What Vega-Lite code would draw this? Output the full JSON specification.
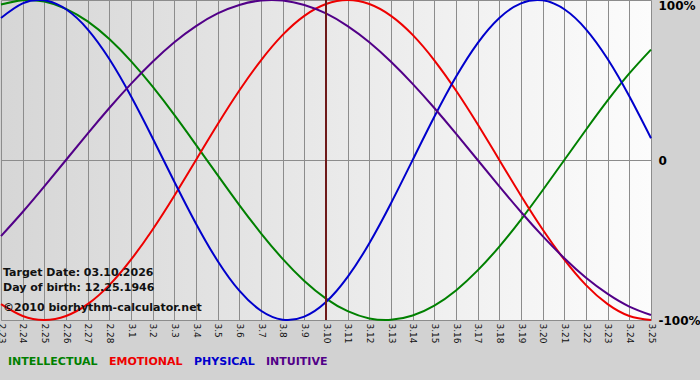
{
  "$schema": "https://vega.github.io/schema/vega-lite/v6.json",
  "width": 650,
  "height": 320,
  "autosize": {"type": "none"},
  "padding": {"left": 1, "top": 0, "right": 49, "bottom": 60},
  "background": "#d2d2d2",
  "config": {
    "font": "DejaVu Sans",
    "view": {
      "stroke": null,
      "fill": {"gradient": "linear", "x1": 0, "y1": 0, "x2": 1, "y2": 0,
        "stops": [{"offset": 0, "color": "#d6d6d6"}, {"offset": 1, "color": "#fcfcfc"}]}
    }
  },
  "layer": [
    {
      "data": {"values": [
        {"date": "2.23", "INTELLECTUAL": 0.972, "EMOTIONAL": -0.901, "PHYSICAL": 0.888, "INTUITIVE": -0.476},
        {"date": "2.24", "INTELLECTUAL": 0.999, "EMOTIONAL": -0.975, "PHYSICAL": 0.979, "INTUITIVE": -0.325},
        {"date": "2.25", "INTELLECTUAL": 0.990, "EMOTIONAL": -1.0, "PHYSICAL": 0.998, "INTUITIVE": -0.165},
        {"date": "2.26", "INTELLECTUAL": 0.945, "EMOTIONAL": -0.975, "PHYSICAL": 0.942, "INTUITIVE": 0.0},
        {"date": "2.27", "INTELLECTUAL": 0.866, "EMOTIONAL": -0.901, "PHYSICAL": 0.817, "INTUITIVE": 0.165},
        {"date": "2.28", "INTELLECTUAL": 0.756, "EMOTIONAL": -0.782, "PHYSICAL": 0.631, "INTUITIVE": 0.325},
        {"date": "3.1", "INTELLECTUAL": 0.618, "EMOTIONAL": -0.623, "PHYSICAL": 0.398, "INTUITIVE": 0.476},
        {"date": "3.2", "INTELLECTUAL": 0.458, "EMOTIONAL": -0.434, "PHYSICAL": 0.136, "INTUITIVE": 0.614},
        {"date": "3.3", "INTELLECTUAL": 0.282, "EMOTIONAL": -0.223, "PHYSICAL": -0.136, "INTUITIVE": 0.736},
        {"date": "3.4", "INTELLECTUAL": 0.095, "EMOTIONAL": 0.0, "PHYSICAL": -0.398, "INTUITIVE": 0.837},
        {"date": "3.5", "INTELLECTUAL": -0.095, "EMOTIONAL": 0.223, "PHYSICAL": -0.631, "INTUITIVE": 0.916},
        {"date": "3.6", "INTELLECTUAL": -0.282, "EMOTIONAL": 0.434, "PHYSICAL": -0.817, "INTUITIVE": 0.969},
        {"date": "3.7", "INTELLECTUAL": -0.458, "EMOTIONAL": 0.623, "PHYSICAL": -0.942, "INTUITIVE": 0.997},
        {"date": "3.8", "INTELLECTUAL": -0.618, "EMOTIONAL": 0.782, "PHYSICAL": -0.998, "INTUITIVE": 0.997},
        {"date": "3.9", "INTELLECTUAL": -0.756, "EMOTIONAL": 0.901, "PHYSICAL": -0.979, "INTUITIVE": 0.969},
        {"date": "3.10", "INTELLECTUAL": -0.866, "EMOTIONAL": 0.975, "PHYSICAL": -0.888, "INTUITIVE": 0.916},
        {"date": "3.11", "INTELLECTUAL": -0.945, "EMOTIONAL": 1.0, "PHYSICAL": -0.731, "INTUITIVE": 0.837},
        {"date": "3.12", "INTELLECTUAL": -0.990, "EMOTIONAL": 0.975, "PHYSICAL": -0.520, "INTUITIVE": 0.736},
        {"date": "3.13", "INTELLECTUAL": -0.999, "EMOTIONAL": 0.901, "PHYSICAL": -0.270, "INTUITIVE": 0.614},
        {"date": "3.14", "INTELLECTUAL": -0.972, "EMOTIONAL": 0.782, "PHYSICAL": 0.0, "INTUITIVE": 0.476},
        {"date": "3.15", "INTELLECTUAL": -0.910, "EMOTIONAL": 0.623, "PHYSICAL": 0.270, "INTUITIVE": 0.325},
        {"date": "3.16", "INTELLECTUAL": -0.815, "EMOTIONAL": 0.434, "PHYSICAL": 0.520, "INTUITIVE": 0.165},
        {"date": "3.17", "INTELLECTUAL": -0.690, "EMOTIONAL": 0.223, "PHYSICAL": 0.731, "INTUITIVE": 0.0},
        {"date": "3.18", "INTELLECTUAL": -0.541, "EMOTIONAL": 0.0, "PHYSICAL": 0.888, "INTUITIVE": -0.165},
        {"date": "3.19", "INTELLECTUAL": -0.372, "EMOTIONAL": -0.223, "PHYSICAL": 0.979, "INTUITIVE": -0.325},
        {"date": "3.20", "INTELLECTUAL": -0.189, "EMOTIONAL": -0.434, "PHYSICAL": 0.998, "INTUITIVE": -0.476},
        {"date": "3.21", "INTELLECTUAL": 0.0, "EMOTIONAL": -0.623, "PHYSICAL": 0.942, "INTUITIVE": -0.614},
        {"date": "3.22", "INTELLECTUAL": 0.189, "EMOTIONAL": -0.782, "PHYSICAL": 0.817, "INTUITIVE": -0.736},
        {"date": "3.23", "INTELLECTUAL": 0.372, "EMOTIONAL": -0.901, "PHYSICAL": 0.631, "INTUITIVE": -0.837},
        {"date": "3.24", "INTELLECTUAL": 0.541, "EMOTIONAL": -0.975, "PHYSICAL": 0.398, "INTUITIVE": -0.916},
        {"date": "3.25", "INTELLECTUAL": 0.690, "EMOTIONAL": -1.0, "PHYSICAL": 0.136, "INTUITIVE": -0.969}
      ]},
      "transform": [
        {"fold": ["INTELLECTUAL", "EMOTIONAL", "PHYSICAL", "INTUITIVE"], "as": ["cycle", "value"]}
      ],
      "mark": {"type": "line", "interpolate": "natural", "strokeWidth": 2},
      "encoding": {
        "x": {
          "field": "date", "type": "ordinal",
          "scale": {"type": "point", "padding": 0, "domain": ["2.23","2.24","2.25","2.26","2.27","2.28","3.1","3.2","3.3","3.4","3.5","3.6","3.7","3.8","3.9","3.10","3.11","3.12","3.13","3.14","3.15","3.16","3.17","3.18","3.19","3.20","3.21","3.22","3.23","3.24","3.25"]},
          "axis": {
            "title": null, "labelAngle": 90, "labelFontSize": 9, "labelColor": "#111111",
            "labelPadding": 3, "ticks": false, "grid": true, "gridColor": "#8c8c8c", "gridWidth": 1,
            "domainColor": "#8c8c8c", "labelOverlap": false, "labelBound": false
          }
        },
        "y": {
          "field": "value", "type": "quantitative",
          "scale": {"domain": [-1, 1], "nice": false, "zero": false},
          "axis": {
            "orient": "right", "title": null, "values": [-1, 0, 1],
            "labelExpr": "datum.value == 1 ? '100%' : datum.value == 0 ? '0' : '-100%'",
            "labelFontSize": 12, "labelFontWeight": "bold", "labelColor": "#000000",
            "labelPadding": 7, "ticks": false, "domain": false,
            "grid": true, "gridColor": "#8c8c8c", "gridWidth": 1,
            "labelBaseline": {"condition": {"test": "datum.value == 1", "value": "top"}, "value": "middle"},
            "labelFlush": false
          }
        },
        "color": {
          "field": "cycle", "type": "nominal",
          "scale": {"domain": ["INTELLECTUAL", "EMOTIONAL", "PHYSICAL", "INTUITIVE"],
                    "range": ["#008000", "#ee0000", "#0000cc", "#520088"]},
          "legend": {
            "orient": "none", "legendX": -4, "legendY": 356, "direction": "horizontal",
            "title": null, "symbolOpacity": 0, "symbolSize": 1, "symbolStrokeWidth": 0,
            "labelOffset": 0, "labelFontSize": 11, "labelFontWeight": "bold",
            "columnPadding": -1,
            "encode": {"labels": {"update": {"fill": {"scale": "color", "field": "value"}}}}
          }
        }
      }
    },
    {
      "data": {"values": [{"date": "3.10"}]},
      "mark": {"type": "rule", "color": "#6e1a1a", "strokeWidth": 2},
      "encoding": {"x": {"field": "date", "type": "ordinal"}}
    },
    {
      "data": {"values": [{"note": "Target Date: 03.10.2026\nDay of birth: 12.25.1946"}]},
      "mark": {"type": "text", "align": "left", "baseline": "alphabetic", "dx": 2, "lineBreak": "\n", "lineHeight": 15, "fontSize": 11, "fontWeight": "bold", "color": "#111111"},
      "encoding": {
        "x": {"datum": "2.23", "type": "ordinal"},
        "y": {"datum": -0.725, "type": "quantitative"},
        "text": {"field": "note"}
      }
    },
    {
      "data": {"values": [{"note": "©2010 biorhythm-calculator.net"}]},
      "mark": {"type": "text", "align": "left", "baseline": "alphabetic", "dx": 2, "fontSize": 11, "fontWeight": "bold", "color": "#111111"},
      "encoding": {
        "x": {"datum": "2.23", "type": "ordinal"},
        "y": {"datum": -0.944, "type": "quantitative"},
        "text": {"field": "note"}
      }
    }
  ]
}
